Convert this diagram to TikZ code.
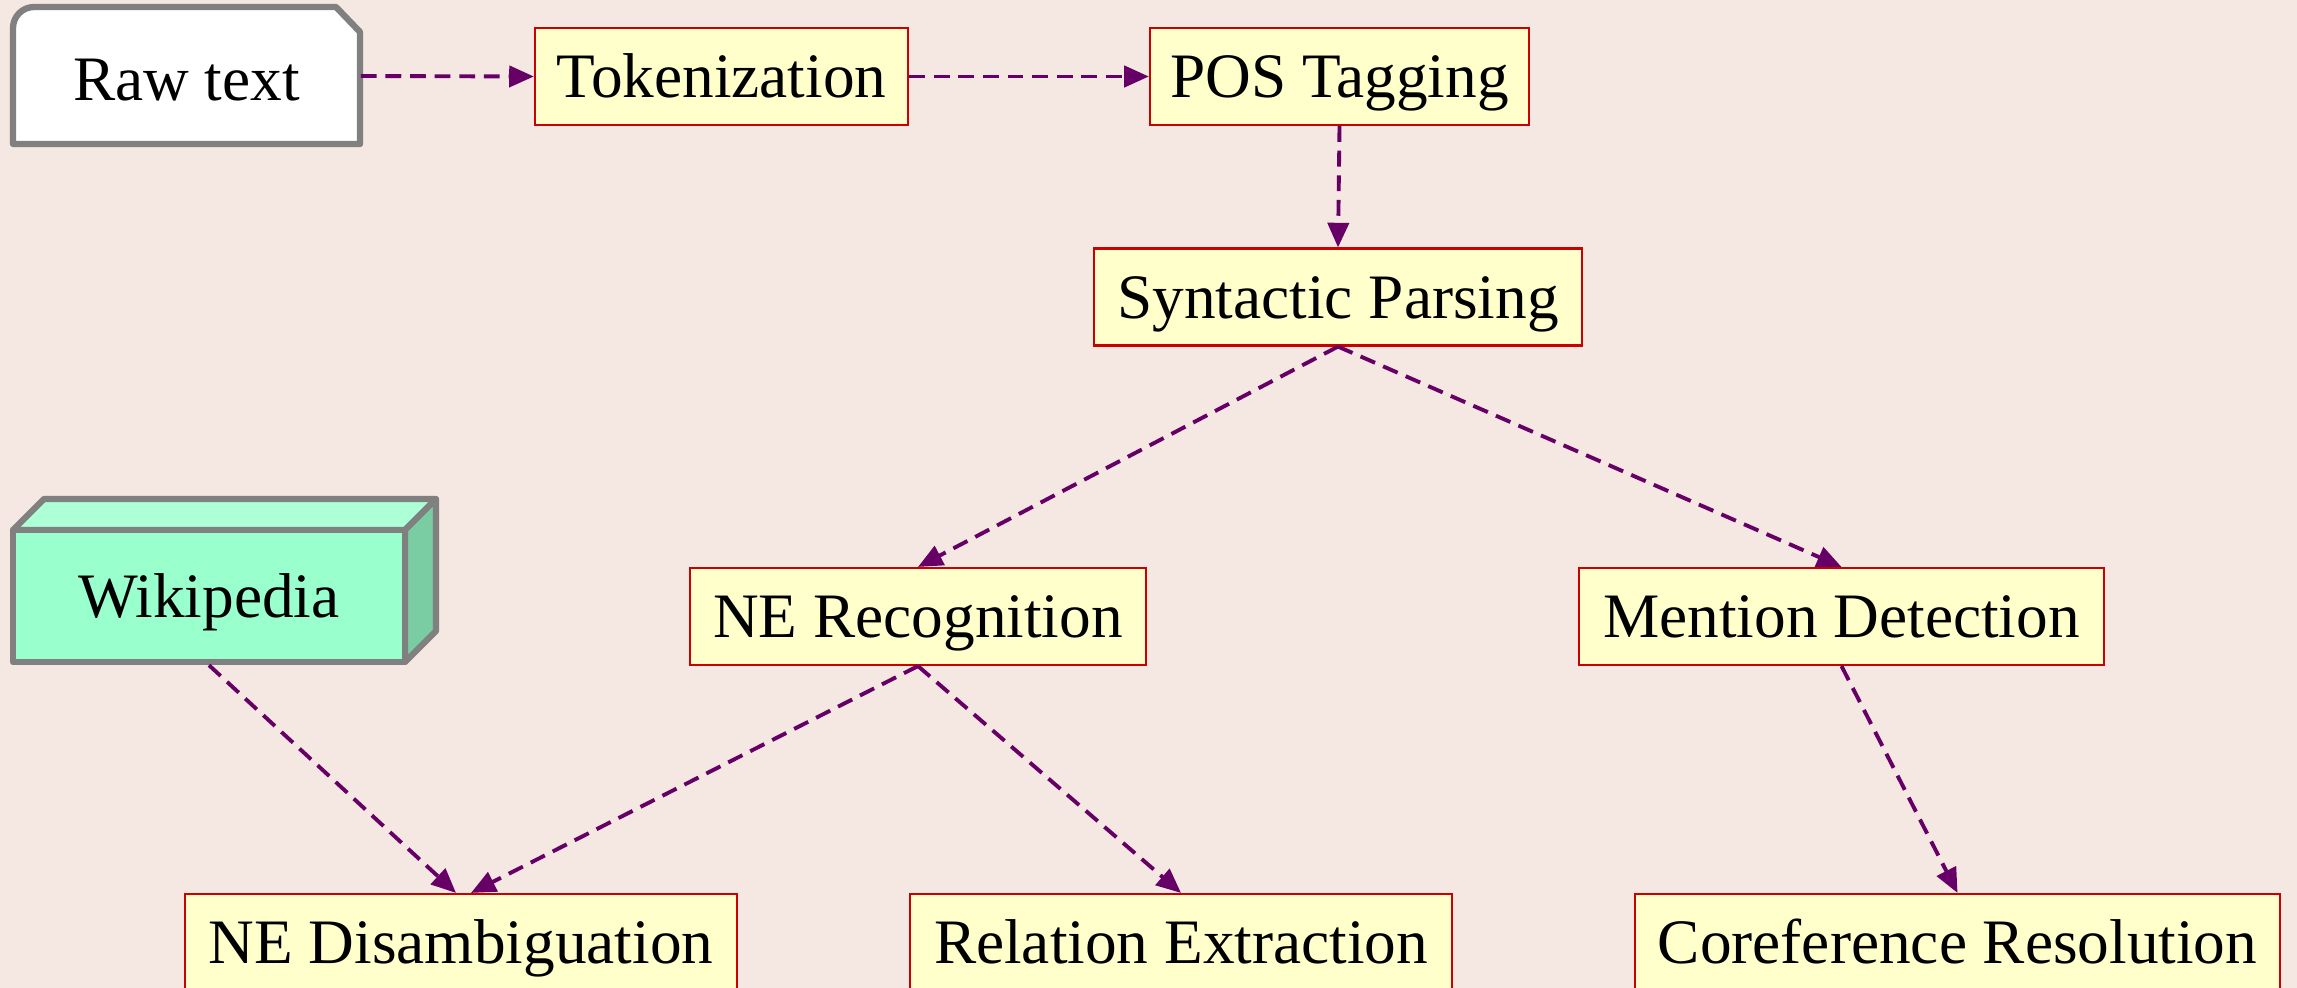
\documentclass[tikz,border=0pt]{standalone}
\usepackage{fontspec}
\setmainfont{Liberation Serif}
\usetikzlibrary{arrows.meta}
\definecolor{bgpink}{RGB}{245,231,225}
\definecolor{boxyellow}{RGB}{255,255,204}
\definecolor{boxred}{RGB}{204,0,0}
\definecolor{flowpurple}{RGB}{102,0,102}
\definecolor{wikifront}{RGB}{153,255,204}
\definecolor{wikitop}{RGB}{173,255,214}
\definecolor{wikiside}{RGB}{122,204,163}
\definecolor{edgegray}{RGB}{128,128,128}

\begin{document}
\begin{tikzpicture}[x=0.01cm, y=-0.01cm,
  stage/.style={draw=boxred, line width=0.6pt, fill=boxyellow, minimum height=0.97cm, inner xsep=2pt, text height=14pt, text depth=2pt, font=\fontsize{18}{22}\selectfont},
  flow/.style={draw=flowpurple, line width=1.1pt, dash pattern=on 4.5pt off 2.5pt, -{Triangle[length=7pt,width=6pt]}},
  source/.style={line width=1.8pt, draw=edgegray, line join=round}]
\fill[bgpink] (0,0) rectangle (2297,988);
\useasboundingbox (0,0) rectangle (2297,988);
\draw[source, fill=white] (13,144) [rounded corners=6pt] -- (13,7) [sharp corners] -- (336,7) -- (360,32) -- (360,144) -- cycle;
\node[font=\fontsize{18}{22}\selectfont, minimum width=3.47cm, minimum height=1.37cm, text height=16pt, text depth=2pt] (raw) at (186.5,76) {Raw text};
\node[stage, minimum width=3.73cm] (tok) at (721.5,76.5) {Tokenization};
\node[stage, minimum width=3.79cm] (pos) at (1339.5,76.5) {POS Tagging};
\node[stage, minimum width=4.88cm] (syn) at (1338,297) {Syntactic Parsing};
\draw[source, fill=wikitop] (13,530) -- (44,499) -- (436,499) -- (405,530) -- cycle;
\draw[source, fill=wikiside] (405,530) -- (436,499) -- (436,631) -- (405,662) -- cycle;
\node[source, fill=wikifront, minimum width=3.92cm, minimum height=1.32cm, text height=14pt, text depth=2pt, font=\fontsize{18}{22}\selectfont] (wiki) at (209,596) {Wikipedia};
\node[stage, minimum width=4.56cm] (ner) at (918,616.5) {NE Recognition};
\node[stage, minimum width=5.25cm] (men) at (1841.5,616.5) {Mention Detection};
\node[stage, minimum width=5.52cm] (ned) at (461,942.5) {NE Disambiguation};
\node[stage, minimum width=5.42cm] (rel) at (1181,942.5) {Relation Extraction};
\node[stage, minimum width=6.45cm] (cor) at (1957.5,942.5) {Coreference Resolution};
\draw[flow] (raw.east) -- (tok.west);
\draw[flow] (tok.east) -- (pos.west);
\draw[flow] (pos.south) -- (syn.north);
\draw[flow] (syn.south) -- (ner.north);
\draw[flow] (syn.south) -- (men.north);
\draw[flow] (wiki.south) -- ([xshift=-0.05cm]ned.north);
\draw[flow] (ner.south) -- ([xshift=0.1cm]ned.north);
\draw[flow] (ner.south) -- (rel.north);
\draw[flow] (men.south) -- (cor.north);
\end{tikzpicture}
\end{document}
